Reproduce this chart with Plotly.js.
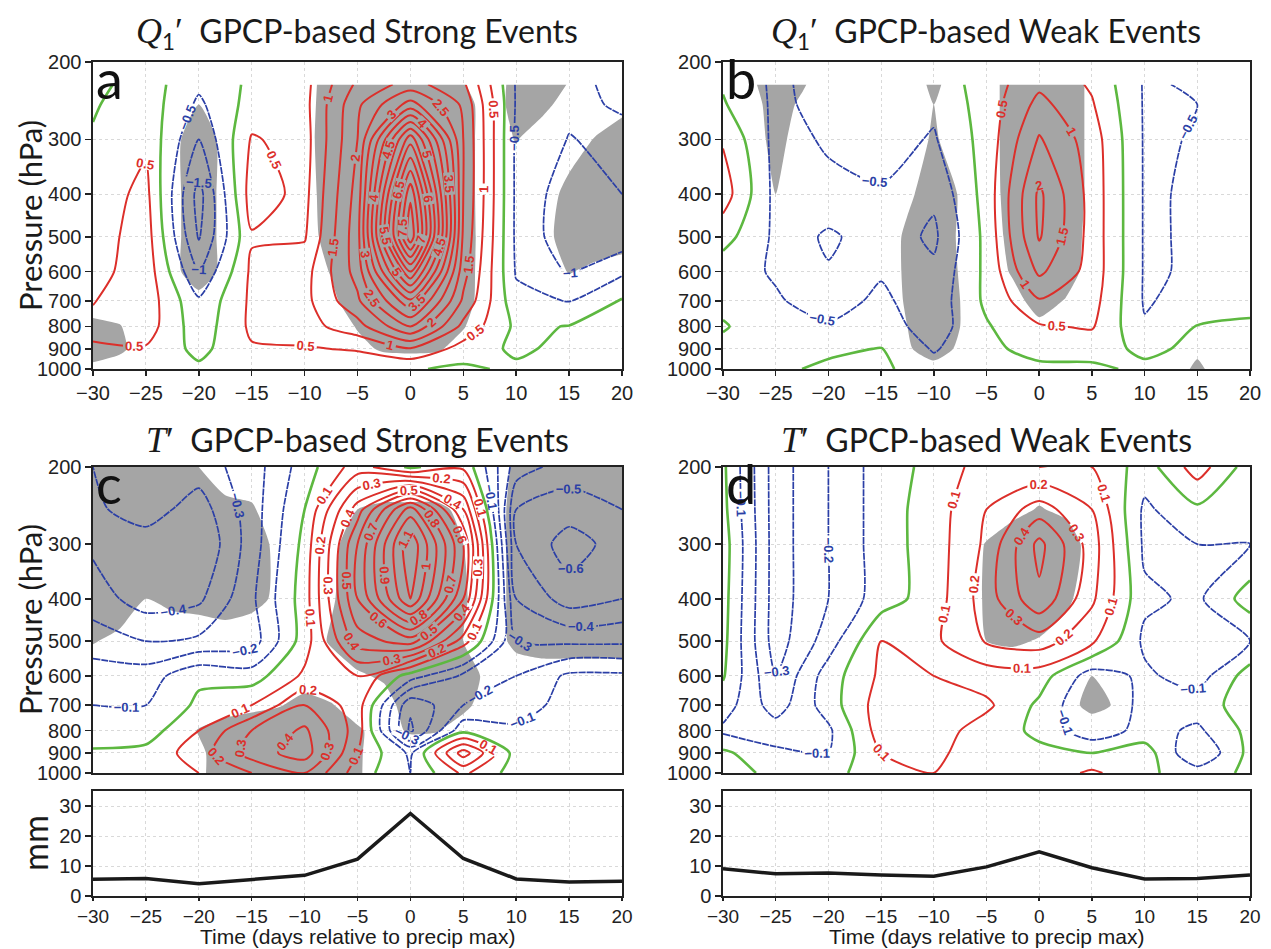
<!DOCTYPE html>
<html>
<head>
<meta charset="utf-8">
<script src="https://cdn.plot.ly/plotly-3.0.1.min.js"></script>
<style>html,body{margin:0;padding:0;background:#fff;}#chart{width:1271px;height:949px;}</style>
</head>
<body>
<div id="chart"></div>
<script>
// ---------------- data ----------------
const days = [-30, -25, -20, -15, -10, -5, 0, 5, 10, 15, 20];
const daysFine = [-30, -27.5, -25, -22.5, -20, -17.5, -15, -12.5, -10, -7.5, -5, -2.5, 0, 2.5, 5, 7.5, 10, 12.5, 15, 17.5, 20];
const presQ = [1000, 900, 800, 700, 600, 500, 400, 300, 250, 225];
const presT = [1000, 900, 800, 700, 600, 500, 400, 300, 250, 200];
const presTicks = [200, 300, 400, 500, 600, 700, 800, 900, 1000];
const dayTicks = [-30, -25, -20, -15, -10, -5, 0, 5, 10, 15, 20];

// (a) Q1' strong events, K/day (rows = presQ, cols = days)
const q1Strong = [
  [ 0.30, 0.30,  0.10, 0.15, 0.10, 0.10, 0.05, -0.10,  0.10,  0.10,  0.20],
  [ 0.45, 0.45, -0.15, 0.45, 0.45, 0.55, 0.95,  0.30, -0.10,  0.15,  0.25],
  [ 0.60, 0.75, -0.30, 0.60, 0.80, 1.30, 2.50,  0.85, -0.10,  0.02,  0.20],
  [ 0.48, 0.80, -0.42, 0.60, 0.85, 1.90, 3.90,  1.40, -0.35, -0.52,  0.05],
  [ 0.30, 0.80, -1.00, 0.60, 0.80, 2.20, 6.00,  1.70, -0.55, -1.05, -0.60],
  [ 0.25, 0.75, -1.55, 0.45, 0.45, 2.30, 8.40,  1.90, -0.60, -1.35, -1.30],
  [ 0.20, 0.65, -1.70, 0.75, 0.35, 2.20, 7.90,  2.00, -0.60, -1.30, -1.00],
  [ 0.05, 0.40, -1.00, 0.55, 0.30, 2.00, 5.80,  2.00, -0.60, -1.02, -0.88],
  [-0.05, 0.30, -0.60, 0.20, 0.35, 1.90, 3.20,  1.90, -0.55, -0.90, -1.05],
  [-0.15, 0.25, -0.40, 0.10, 0.35, 1.60, 2.20,  1.60, -0.55, -0.90, -1.10]
];
const q1StrongSig = [
  [0.3,0,0,0,0,0,0,0,0,0,0,0,0,0,0,0,0,0,0,0,0],
  [0.9,0.7,0,0,0,0,0,0,0,0,0.3,0.6,0.65,0.6,0.2,0,0,0,0,0,0],
  [0.7,0.55,0,0,0,0,0,0,0,0.1,0.55,1,1,1,0.55,0,0,0,0,0,0],
  [0.1,0,0,0,0.2,0,0,0,0,0.3,1,1,1,1,0.85,0,0,0,0,0,0],
  [0,0,0,0.25,1,0.25,0,0,0,0.55,1,1,1,1,0.9,0,0,0,0.55,0.3,0],
  [0,0,0,0.25,1,0.25,0,0,0.15,0.8,1,1,1,1,0.9,0.05,0,0.2,0.9,1,1],
  [0,0,0,0.25,1,0.25,0,0,0.2,0.85,1,1,1,1,0.9,0,0,0.1,0.75,1,1],
  [0,0,0,0.25,1,0.25,0,0,0.25,0.9,1,1,1,1,0.9,0,0.55,0,0.1,0.55,1],
  [0,0,0,0.1,0.5,0.1,0,0,0.2,0.9,1,1,1,1,0.85,0.05,0.8,0.75,0.1,0,0.2],
  [0,0,0,0,0,0,0,0,0.15,0.9,1,1,1,1,0.55,0,0.8,0.95,0.45,0,0]
];

// (b) Q1' weak events
const q1Weak = [
  [-0.20, -0.10,  0.10,  0.10, -0.30, -0.20, -0.10, -0.10,  0.10,  0.15,  0.20],
  [-0.15, -0.25, -0.10,  0.02, -0.55, -0.10,  0.15,  0.20, -0.10,  0.10,  0.15],
  [ 0.05, -0.35, -0.45, -0.25, -0.75, -0.05,  0.45,  0.55, -0.45,  0.02,  0.05],
  [-0.15, -0.45, -0.70, -0.40, -0.80,  0.10,  0.95,  0.70, -0.55, -0.30, -0.10],
  [-0.30, -0.55, -0.95, -0.55, -0.90,  0.12,  1.60,  0.80, -0.55, -0.45, -0.20],
  [ 0.20, -0.60, -1.10, -0.70, -1.10,  0.15,  2.05,  0.80, -0.55, -0.45, -0.25],
  [ 0.75, -0.65, -0.60, -0.55, -0.90,  0.20,  2.10,  0.80, -0.55, -0.45, -0.25],
  [ 0.45, -0.65, -0.45, -0.30, -0.55,  0.20,  1.55,  0.75, -0.55, -0.48, -0.30],
  [ 0.05, -0.60, -0.35, -0.25, -0.40,  0.22,  1.15,  0.55, -0.55, -0.50, -0.30],
  [-0.05, -0.60, -0.30, -0.20, -0.30,  0.22,  0.90,  0.43, -0.55, -0.45, -0.30]
];
const q1WeakSig = [
  [0,0,0,0,0,0,0,0,0.2,0,0,0,0,0,0,0,0,0,0.7,0,0],
  [0,0,0,0,0,0,0,0.4,0.9,0.35,0,0,0,0,0,0,0,0,0.3,0,0],
  [0,0,0,0,0,0,0,0.5,1,0.5,0,0,0.3,0,0,0,0,0,0,0,0],
  [0,0,0,0,0,0,0,0.6,1,0.5,0,0.2,0.85,0.45,0,0,0,0,0,0,0],
  [0,0,0,0,0,0,0,0.65,1,0.45,0,0.6,1,0.95,0.1,0,0,0,0,0,0],
  [0,0,0,0,0,0,0,0.65,1,0.4,0.05,0.75,1,1,0.2,0,0,0,0,0,0],
  [0,0,0.5,0,0,0,0,0.35,0.9,0.45,0.1,0.85,1,1,0.3,0,0,0,0,0,0],
  [0,0,0.8,0.1,0,0,0,0.1,0.6,0.1,0.1,0.9,1,1,0.3,0,0,0,0,0,0],
  [0,0.1,0.9,0.35,0,0,0,0,0.5,0,0.1,0.9,1,1,0.3,0,0,0,0,0,0],
  [0,0.3,1,0.6,0,0,0,0,0.7,0,0.1,0.9,1,1,0.3,0,0,0,0,0,0]
];

// (c) T' strong events, K (rows = presT)
const tStrong = [
  [ 0.02,  0.03,  0.10,  0.20, 0.30, 0.05, -0.10,  0.12, -0.05, -0.04, -0.04],
  [ 0.02,  0.03,  0.15,  0.35, 0.45, 0.10, -0.12,  0.35, -0.05, -0.04, -0.04],
  [-0.08, -0.05,  0.10,  0.30, 0.42, 0.15, -0.42, -0.03, -0.08, -0.04, -0.04],
  [-0.10, -0.10,  0.02,  0.10, 0.30, 0.15, -0.38, -0.20, -0.15, -0.06, -0.04],
  [-0.15, -0.15, -0.02, -0.05, 0.12, 0.20, -0.05, -0.22, -0.20, -0.08, -0.08],
  [-0.25, -0.30, -0.28, -0.25, 0.05, 0.45,  0.55,  0.15, -0.30, -0.32, -0.32],
  [-0.35, -0.45, -0.42, -0.22, 0.05, 0.60,  1.10,  0.50, -0.40, -0.55, -0.50],
  [-0.42, -0.45, -0.50, -0.25, 0.03, 0.60,  1.18,  0.60, -0.50, -0.65, -0.55],
  [-0.42, -0.35, -0.45, -0.25, 0.00, 0.45,  0.95,  0.40, -0.50, -0.55, -0.50],
  [-0.40, -0.30, -0.35, -0.25, -0.05, 0.15, -0.02,  0.08, -0.35, -0.45, -0.40]
];
const tStrongSig = [
  [0,0,0,0,0.35,0.9,1,1,1,1,0.6,0.05,0,0,0,0,0,0,0,0,0],
  [0,0,0,0,0.35,0.9,1,1,1,1,0.6,0.1,0,0,0,0,0,0,0,0,0],
  [0,0,0,0,0.55,0.9,1,1,1,0.9,0.6,0.2,0.6,0.55,0.1,0,0,0,0,0,0],
  [0,0,0,0,0,0.1,0.3,0.45,0.7,0.55,0.15,0.2,0.85,1,0.7,0.1,0,0,0,0,0],
  [0,0,0,0,0,0,0,0,0.2,0,0.4,0.6,0.8,0.9,0.85,0.3,0,0,0,0,0],
  [0.55,0.3,0,0,0,0,0,0,0,0.6,1,1,1,1,0.5,0,0.75,1,1,1,1],
  [1,1,0.5,0.7,0.8,1,0.75,0.35,0,0.4,1,1,1,1,0.6,0,0.8,1,1,1,1],
  [1,1,1,1,1,1,0.9,0.3,0,0.25,1,1,1,1,0.5,0,0.8,1,1,1,1],
  [1,1,1,1,1,0.75,0.6,0,0,0,0.5,0.6,0.6,0.6,0.4,0,0.8,1,1,1,1],
  [1,1,1,1,0.5,0,0,0,0,0,0,0,0,0,0,0,0.65,1,1,1,1]
];

// (d) T' weak events
const tWeak = [
  [ 0.05, -0.03, -0.03,  0.05, 0.10, 0.05,  0.03,  0.12,  0.02, -0.05,  0.02],
  [ 0.02, -0.08, -0.10,  0.10, 0.12, 0.05,  0.02,  0.00,  0.05, -0.20,  0.03],
  [-0.12, -0.15, -0.12,  0.15, 0.15, 0.05, -0.02, -0.17, -0.06, -0.12,  0.03],
  [-0.05, -0.25, -0.05,  0.15, 0.14, 0.12, -0.02, -0.20, -0.07, -0.05,  0.05],
  [ 0.01, -0.30, -0.05,  0.12, 0.10, 0.05,  0.05, -0.15, -0.08, -0.15,  0.05],
  [ 0.03, -0.35, -0.15,  0.10, 0.08, 0.21,  0.25,  0.12, -0.12, -0.15, -0.10],
  [ 0.04, -0.35, -0.20, -0.05, 0.05, 0.25,  0.48,  0.22, -0.08, -0.12,  0.05],
  [ 0.05, -0.35, -0.20, -0.05, 0.05, 0.22,  0.53,  0.25, -0.12, -0.10, -0.10],
  [ 0.03, -0.35, -0.20, -0.05, 0.05, 0.20,  0.35,  0.20, -0.12, -0.02, -0.05],
  [ 0.02, -0.35, -0.20, -0.05, 0.03, 0.15,  0.10,  0.10, -0.05,  0.15, -0.05]
];
const tWeakSig = [
  [0,0,0,0,0,0,0,0,0,0,0,0,0,0,0,0,0,0,0,0,0],
  [0,0,0,0,0,0,0,0,0,0,0,0,0,0,0,0,0,0,0,0,0],
  [0,0,0,0,0,0,0,0,0,0,0,0,0,0,0,0,0,0,0,0,0],
  [0,0,0,0,0,0,0,0,0,0,0,0,0,0.2,0.75,0.4,0,0,0,0,0],
  [0,0,0,0,0,0,0,0,0,0,0,0,0,0,0.5,0.2,0,0,0,0,0],
  [0,0,0,0,0,0,0,0,0,0,0.5,0.6,0.45,0.1,0,0,0,0,0,0,0],
  [0,0,0,0,0,0,0,0,0,0,0.6,1,1,0.7,0,0,0,0,0,0,0],
  [0,0,0,0,0,0,0,0,0,0,0.55,0.9,1,0.9,0.2,0,0,0,0,0,0],
  [0,0,0,0,0,0,0,0,0,0,0,0.3,0.55,0.35,0,0,0,0,0,0,0],
  [0,0,0,0,0,0,0,0,0,0,0,0,0,0,0,0,0,0,0,0,0]
];

// (e, f) precipitation, mm
const precipStrong = [5.6, 5.8, 4.1, 5.6, 6.9, 12.3, 27.5, 12.5, 5.7, 4.7, 4.9];
const precipWeak   = [9.1, 7.4, 7.7, 7.0, 6.6, 9.7, 14.7, 9.4, 5.7, 5.8, 7.0];

// ---------------- styles ----------------
const W = 1271, H = 949;
const RED = '#dc2f2a', BLUE = '#2b3fa6', GREEN = '#5db840', GREY = '#a5a5a5';
const TICKFONT = {family: 'Liberation Sans, Arial, sans-serif', size: 20, color: '#222'};
const BOTTICKFONT = {family: 'Liberation Sans, Arial, sans-serif', size: 19, color: '#222'};
const LABELFONT = {family: 'Liberation Sans Narrow, Liberation Sans, Arial', size: 13, weight: 'bold'};

function px(x) { return x / W; }
function py(y) { return 1 - y / H; }

function contourSet(x, y, z, sigX, sig, step, xa, ya) {
  const common = {type: 'contour', x: x, y: y, z: z, xaxis: xa, yaxis: ya,
    autocontour: false, showscale: false, hoverinfo: 'skip'};
  return [
    {type: 'contour', x: sigX, y: y, z: sig, xaxis: xa, yaxis: ya, showscale: false, hoverinfo: 'skip',
     contours: {type: 'constraint', operation: '<', value: 0.5},
     fillcolor: GREY, line: {width: 0, color: GREY, smoothing: 0.6}},
    Object.assign({}, common, {
      contours: {coloring: 'none', start: step, end: 20, size: step, showlabels: true,
                 labelformat: '.1~f', labelfont: Object.assign({color: RED}, LABELFONT)},
      line: {color: RED, width: 2, smoothing: 0.7}}),
    Object.assign({}, common, {
      contours: {coloring: 'none', start: -20 * step, end: -step * 0.5, size: step, showlabels: true,
                 labelformat: '.1~f', labelfont: Object.assign({color: BLUE}, LABELFONT)},
      line: {color: BLUE, width: 1.7, dash: '7px,1px', smoothing: 0.7}}),
    Object.assign({}, common, {
      contours: {coloring: 'none', start: 0, end: 0.00001, size: 1, showlabels: false},
      line: {color: GREEN, width: 2.6, smoothing: 0.7}})
  ];
}

const traces = [].concat(
  contourSet(days, presQ, q1Strong, daysFine, q1StrongSig, 0.5, 'x', 'y'),
  contourSet(days, presQ, q1Weak, daysFine, q1WeakSig, 0.5, 'x2', 'y2'),
  contourSet(days, presT, tStrong, daysFine, tStrongSig, 0.1, 'x3', 'y3'),
  contourSet(days, presT, tWeak, daysFine, tWeakSig, 0.1, 'x4', 'y4'),
  [{type: 'scatter', mode: 'lines', x: days, y: precipStrong, xaxis: 'x5', yaxis: 'y5',
    line: {color: '#1a1a1a', width: 3.5}, hoverinfo: 'skip'},
   {type: 'scatter', mode: 'lines', x: days, y: precipWeak, xaxis: 'x6', yaxis: 'y6',
    line: {color: '#1a1a1a', width: 3.5}, hoverinfo: 'skip'}]
);

const leftX = [px(93), px(622)], rightX = [px(723), px(1250)];
const rowA = [py(369), py(62)], rowC = [py(773), py(467)], rowE = [py(896), py(791)];

function xAx(domain, anchor, labels, font, len) {
  return {domain: domain, anchor: anchor, range: [-30, 20], tickvals: dayTicks,
    ticks: labels ? 'outside' : '', ticklen: len || 5, tickwidth: 1.5, tickcolor: '#222',
    showticklabels: labels, tickfont: font || TICKFONT,
    showline: true, mirror: true, linecolor: '#222', linewidth: 1.6,
    showgrid: true, gridcolor: '#d9d9d9', griddash: 'dot', gridwidth: 1, zeroline: false};
}
function yAxP(domain, anchor) {
  return {domain: domain, anchor: anchor, type: 'log', range: [3, Math.log10(200)],
    tickvals: presTicks, ticktext: presTicks.map(String),
    ticks: 'outside', ticklen: 6, tickwidth: 1.5, tickcolor: '#222', tickfont: TICKFONT,
    showline: true, mirror: true, linecolor: '#222', linewidth: 1.6,
    showgrid: true, gridcolor: '#d9d9d9', griddash: 'dot', gridwidth: 1, zeroline: false};
}
function yAxMM(domain, anchor) {
  return {domain: domain, anchor: anchor, range: [0, 35], tickvals: [0, 10, 20, 30],
    ticks: 'outside', ticklen: 6, tickwidth: 1.5, tickcolor: '#222', tickfont: TICKFONT,
    showline: true, mirror: true, linecolor: '#222', linewidth: 1.6,
    showgrid: true, gridcolor: '#d9d9d9', griddash: 'dot', gridwidth: 1, zeroline: false};
}

const TITLEFONT = {family: 'Lato, Noto Sans, sans-serif', size: 32, color: '#1a1a1a'};
const SERIF = "font-family:'Liberation Serif',serif;font-style:italic;font-size:36px";
function title(sym, sub, text, x, y) {
  const s = '<span style="' + SERIF + '">' + sym + '</span>' + (sub ? '<sub>' + sub + '</sub>' : '') +
            '<span style="font-family:\'Liberation Serif\',serif;font-size:36px">′</span>&nbsp;&nbsp;' + text;
  return {text: s, x: x, y: y, xref: 'paper', yref: 'paper', xanchor: 'center', yanchor: 'middle',
          showarrow: false, font: TITLEFONT};
}
function letter(t, x, y) {
  return {text: t, x: x, y: y, xref: 'paper', yref: 'paper', xanchor: 'left', yanchor: 'middle',
          showarrow: false, font: {family: 'Lato, Noto Sans, sans-serif', size: 54, color: '#111'}};
}
function ytitle(t, x, y, size) {
  return {text: t, x: x, y: y, xref: 'paper', yref: 'paper', xanchor: 'center', yanchor: 'middle',
          textangle: -90, showarrow: false, font: {family: 'Lato, Noto Sans, sans-serif', size: size, color: '#1a1a1a'}};
}
function xtitle(x) {
  return {text: 'Time (days relative to precip max)', x: x, y: 0, xref: 'paper', yref: 'paper',
          xanchor: 'center', yanchor: 'bottom', showarrow: false, borderpad: 0,
          font: {family: 'Liberation Sans, Arial, sans-serif', size: 21, color: '#1a1a1a'}};
}

const layout = {
  width: W, height: H, margin: {l: 0, r: 0, t: 0, b: 0},
  paper_bgcolor: '#fff', plot_bgcolor: '#fff', showlegend: false,
  xaxis: xAx(leftX, 'y', true), yaxis: yAxP(rowA, 'x'),
  xaxis2: xAx(rightX, 'y2', true), yaxis2: yAxP(rowA, 'x2'),
  xaxis3: xAx(leftX, 'y3', false), yaxis3: yAxP(rowC, 'x3'),
  xaxis4: xAx(rightX, 'y4', false), yaxis4: yAxP(rowC, 'x4'),
  xaxis5: xAx(leftX, 'y5', true, BOTTICKFONT, 3), yaxis5: yAxMM(rowE, 'x5'),
  xaxis6: xAx(rightX, 'y6', true, BOTTICKFONT, 3), yaxis6: yAxMM(rowE, 'x6'),
  annotations: [
    title('Q', '1', 'GPCP-based Strong Events', px(357), py(33)),
    title('Q', '1', 'GPCP-based Weak Events', px(986), py(33)),
    title('T', '', 'GPCP-based Strong Events', px(357), py(440)),
    title('T', '', 'GPCP-based Weak Events', px(986), py(440)),
    letter('a', px(94), py(78)), letter('b', px(724), py(78)),
    letter('c', px(94), py(483)), letter('d', px(724), py(483)),
    ytitle('Pressure (hPa)', px(30), py(216), 31),
    ytitle('Pressure (hPa)', px(30), py(620), 31),
    ytitle('mm', px(34), py(843), 34),
    xtitle(px(357)), xtitle(px(986))
  ]
};

Plotly.newPlot('chart', traces, layout, {staticPlot: true, displayModeBar: false});
</script>
</body>
</html>
